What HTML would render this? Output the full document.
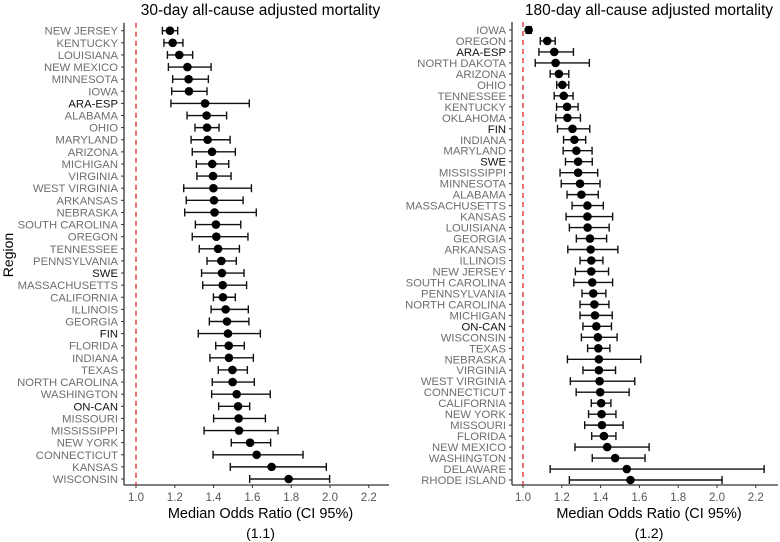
<!DOCTYPE html>
<html><head><meta charset="utf-8"><style>
html,body{margin:0;padding:0;background:#fff;}
svg{display:block;font-family:"Liberation Sans",Arial,sans-serif;}
</style></head><body>
<svg id="chart" width="780" height="542" viewBox="0 0 780 542" xmlns="http://www.w3.org/2000/svg">
<text x="0" y="0" transform="translate(13,255) rotate(-90)" text-anchor="middle" font-size="14" fill="#000">Region</text>
</svg>
<script>
const ticks = [1.0, 1.2, 1.4, 1.6, 1.8, 2.0, 2.2];
const refValue = 1.0;
// Panel 1.1
const regions1 = ["NEW JERSEY","KENTUCKY","LOUISIANA","NEW MEXICO","MINNESOTA","IOWA","ARA-ESP","ALABAMA","OHIO","MARYLAND","ARIZONA","MICHIGAN","VIRGINIA","WEST VIRGINIA","ARKANSAS","NEBRASKA","SOUTH CAROLINA","OREGON","TENNESSEE","PENNSYLVANIA","SWE","MASSACHUSETTS","CALIFORNIA","ILLINOIS","GEORGIA","FIN","FLORIDA","INDIANA","TEXAS","NORTH CAROLINA","WASHINGTON","ON-CAN","MISSOURI","MISSISSIPPI","NEW YORK","CONNECTICUT","KANSAS","WISCONSIN"];
const mor1 = [1.175,1.189,1.223,1.265,1.271,1.273,1.356,1.364,1.366,1.369,1.392,1.393,1.397,1.399,1.402,1.405,1.412,1.414,1.423,1.440,1.443,1.447,1.448,1.462,1.469,1.474,1.478,1.479,1.497,1.498,1.519,1.526,1.529,1.531,1.588,1.622,1.699,1.787];
const lo1 = [1.136,1.144,1.162,1.167,1.189,1.184,1.180,1.263,1.304,1.284,1.290,1.311,1.314,1.246,1.259,1.251,1.306,1.290,1.326,1.366,1.338,1.344,1.399,1.387,1.378,1.321,1.411,1.381,1.424,1.393,1.390,1.426,1.400,1.351,1.491,1.397,1.486,1.586];
const hi1 = [1.215,1.242,1.292,1.387,1.373,1.366,1.584,1.467,1.428,1.485,1.512,1.478,1.490,1.595,1.552,1.620,1.540,1.577,1.533,1.517,1.557,1.570,1.512,1.579,1.582,1.641,1.558,1.605,1.574,1.610,1.692,1.586,1.667,1.732,1.694,1.861,1.981,1.998];
// Panel 1.2
const regions2 = ["IOWA","OREGON","ARA-ESP","NORTH DAKOTA","ARIZONA","OHIO","TENNESSEE","KENTUCKY","OKLAHOMA","FIN","INDIANA","MARYLAND","SWE","MISSISSIPPI","MINNESOTA","ALABAMA","MASSACHUSETTS","KANSAS","LOUISIANA","GEORGIA","ARKANSAS","ILLINOIS","NEW JERSEY","SOUTH CAROLINA","PENNSYLVANIA","NORTH CAROLINA","MICHIGAN","ON-CAN","WISCONSIN","TEXAS","NEBRASKA","VIRGINIA","WEST VIRGINIA","CONNECTICUT","CALIFORNIA","NEW YORK","MISSOURI","FLORIDA","NEW MEXICO","WASHINGTON","DELAWARE","RHODE ISLAND"];
const mor2 = [1.029,1.125,1.161,1.168,1.185,1.203,1.210,1.227,1.229,1.255,1.265,1.275,1.284,1.284,1.294,1.301,1.332,1.332,1.333,1.345,1.349,1.352,1.352,1.357,1.362,1.368,1.371,1.378,1.386,1.388,1.391,1.391,1.395,1.398,1.403,1.405,1.407,1.417,1.434,1.475,1.535,1.554];
const lo2 = [1.017,1.089,1.082,1.063,1.140,1.174,1.161,1.173,1.169,1.178,1.209,1.207,1.219,1.191,1.197,1.227,1.253,1.222,1.239,1.275,1.231,1.294,1.270,1.262,1.304,1.294,1.294,1.309,1.301,1.333,1.229,1.309,1.244,1.274,1.352,1.338,1.318,1.354,1.268,1.357,1.140,1.239];
const hi2 = [1.043,1.166,1.260,1.342,1.236,1.236,1.258,1.284,1.296,1.344,1.323,1.356,1.357,1.385,1.397,1.388,1.414,1.462,1.444,1.431,1.489,1.412,1.441,1.462,1.427,1.443,1.460,1.456,1.485,1.448,1.607,1.477,1.576,1.547,1.453,1.479,1.516,1.479,1.650,1.629,2.243,2.026];
const countries = ["ARA-ESP","SWE","FIN","ON-CAN"];

const svg = document.getElementById('chart');
const NS = 'http://www.w3.org/2000/svg';
function mk(tag, attrs, parent){
  const e = document.createElementNS(NS, tag);
  for (const k in attrs) e.setAttribute(k, attrs[k]);
  (parent||svg).appendChild(e);
  return e;
}

function panel(cfg){
  const {key, title, caption, regions, mor, lo, hi, axisX, refX, rightX, yFirst, yLast, axisBottom} = cfg;
  const g = mk('g', {});
  
  
  const sx = v => refX + (v - 1.0) * 194;
  const step = (yLast - yFirst) / (regions.length - 1);
  const sy = i => yFirst + i * step;
  // title
  const t = mk('text', {x: (axisX + rightX)/2 + 4, y: 15, 'text-anchor':'middle', 'font-size':'15.5', fill:'#000'}, g);
  
  
  t.textContent = title;
  // axes
  const yAxis = mk('line', {x1:axisX, x2:axisX, y1:yFirst-8, y2:axisBottom, stroke:'#333', 'stroke-width':1.3}, g);
  
  
  const xAxis = mk('line', {x1:axisX, x2:rightX, y1:axisBottom, y2:axisBottom, stroke:'#333', 'stroke-width':1.3}, g);
  
  
  // ref line
  const rl = mk('line', {x1:sx(refValue), x2:sx(refValue), y1:yFirst-8, y2:axisBottom, stroke:'#e0262b', 'stroke-width':1.3, 'stroke-dasharray':'5,4'}, g);
  
  
  // x ticks
  ticks.forEach(v => {
    const tk = mk('line', {x1:sx(v), x2:sx(v), y1:axisBottom, y2:axisBottom+3, stroke:'#333', 'stroke-width':1}, g);
    
    
    const tl = mk('text', {x:sx(v), y:axisBottom+16, 'text-anchor':'middle', 'font-size':'11.5', fill:'#555'}, g);
    
    
    tl.textContent = v.toFixed(1);
  });
  const xt = mk('text', {x:(axisX + rightX)/2 + 4, y:axisBottom+33, 'text-anchor':'middle', 'font-size':'14.5', fill:'#000'}, g);
  
  
  xt.textContent = 'Median Odds Ratio (CI 95%)';
  const cp = mk('text', {x:(axisX + rightX)/2 + 4, y:axisBottom+53, 'text-anchor':'middle', 'font-size':'14', fill:'#000'}, g);
  
  
  cp.textContent = caption;
  // rows
  regions.forEach((r, i) => {
    const y = sy(i);
    const tk = mk('line', {x1:axisX-3, x2:axisX, y1:y, y2:y, stroke:'#333', 'stroke-width':1}, g);
    
    
    const lab = mk('text', {x:axisX-6, y:y+4, 'text-anchor':'end', 'font-size':'11.3', fill: countries.includes(r) ? '#111' : '#6e6e6e'}, g);
    
    
    lab.textContent = r;
    const eg = mk('g', {stroke:'#111', 'stroke-width':1.4}, g);
    
    
    mk('line', {x1:sx(lo[i]), x2:sx(hi[i]), y1:y, y2:y}, eg);
    mk('line', {x1:sx(lo[i]), x2:sx(lo[i]), y1:y-4, y2:y+4}, eg);
    mk('line', {x1:sx(hi[i]), x2:sx(hi[i]), y1:y-4, y2:y+4}, eg);
    const p = mk('circle', {cx:sx(mor[i]), cy:y, r:4.3, fill:'#000'}, g);
    
    
  });
}

panel({key:'mortality-30-day', title:'30-day all-cause adjusted mortality', caption:'(1.1)', regions:regions1, mor:mor1, lo:lo1, hi:hi1, axisX:124, refX:136, rightX:389, yFirst:30.7, yLast:479, axisBottom:485});
panel({key:'mortality-180-day', title:'180-day all-cause adjusted mortality', caption:'(1.2)', regions:regions2, mor:mor2, lo:lo2, hi:hi2, axisX:512, refX:523, rightX:778, yFirst:30, yLast:480, axisBottom:485});
</script>
</body></html>
